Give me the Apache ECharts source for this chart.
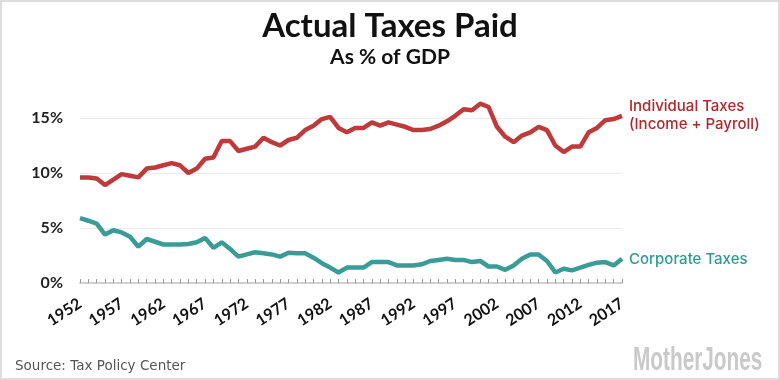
<!DOCTYPE html>
<html>
<head>
<meta charset="utf-8">
<script src="https://cdn.jsdelivr.net/npm/echarts@6/dist/echarts.min.js"></script>
<style>
  html, body { margin: 0; padding: 0; background: #fff; }
  #chart { width: 780px; height: 380px; }
</style>
</head>
<body>
<div id="chart"></div>
<script>
const years = [];
for (let y = 1952; y <= 2017; y++) years.push(String(y));

const individualTaxes = [
  9.6, 9.6, 9.5, 8.9, 9.4, 9.9, 9.75, 9.6, 10.4, 10.5,
  10.7, 10.9, 10.7, 10.0, 10.4, 11.3, 11.4, 12.9, 12.9, 12.0,
  12.2, 12.4, 13.2, 12.8, 12.5, 13.0, 13.2, 13.9, 14.3, 14.9,
  15.1, 14.1, 13.7, 14.1, 14.1, 14.6, 14.3, 14.6, 14.4, 14.2,
  13.9, 13.9, 14.0, 14.3, 14.7, 15.2, 15.8, 15.7, 16.3, 16.0,
  14.2, 13.3, 12.8, 13.4, 13.7, 14.2, 13.9, 12.5, 11.9, 12.4,
  12.4, 13.7, 14.1, 14.8, 14.9, 15.2
];

const corporateTaxes = [
  5.9, 5.66, 5.4, 4.4, 4.8, 4.6, 4.2, 3.3, 4.0, 3.75,
  3.5, 3.5, 3.5, 3.55, 3.7, 4.1, 3.2, 3.7, 3.1, 2.4,
  2.6, 2.8, 2.7, 2.6, 2.4, 2.75, 2.7, 2.7, 2.3, 1.8,
  1.4, 0.96, 1.4, 1.4, 1.4, 1.9, 1.9, 1.9, 1.6, 1.6,
  1.6, 1.7, 2.0, 2.1, 2.2, 2.1, 2.1, 1.9, 2.0, 1.5,
  1.5, 1.2, 1.6, 2.2, 2.6, 2.6, 2.0, 0.96, 1.3, 1.15,
  1.4, 1.65, 1.85, 1.9, 1.6, 2.2
];

const yTicks = [0, 5, 10, 15];

const chart = echarts.init(document.getElementById('chart'), null, { renderer: 'canvas' });

chart.setOption({
  backgroundColor: '#ffffff',
  animation: false,
  title: [
    {
      text: 'Actual Taxes Paid',
      left: 'center',
      top: 5,
      textStyle: { fontFamily: 'Lato', fontWeight: 'bold', fontSize: 33, color: '#111' }
    },
    {
      text: 'As % of GDP',
      left: 'center',
      top: 42,
      textStyle: { fontFamily: 'Lato', fontWeight: 'bold', fontSize: 21, color: '#111' }
    }
  ],
  grid: { left: 80, right: 158, top: 96, bottom: 97, containLabel: false },
  xAxis: {
    type: 'category',
    data: years,
    boundaryGap: false,
    axisLine: { show: true, lineStyle: { color: '#cfcfcf', width: 2 } },
    axisTick: { show: true, inside: true, interval: 0, length: 4, lineStyle: { color: '#999', width: 1 } },
    axisLabel: {
      interval: 4,
      rotate: 33,
      margin: 19,
      fontFamily: 'Lato',
      fontWeight: 'bold',
      fontSize: 16,
      color: '#111'
    },
    splitLine: { show: false }
  },
  yAxis: {
    type: 'value',
    min: yTicks[0],
    max: 17,
    interval: 5,
    axisLine: { show: false },
    axisTick: { show: false },
    axisLabel: {
      showMaxLabel: false,
      margin: 17,
      fontFamily: 'Lato',
      fontWeight: 'bold',
      fontSize: 16,
      color: '#222',
      formatter: function (v) { return yTicks.indexOf(v) >= 0 ? v + '%' : ''; }
    },
    splitLine: { show: true, showMaxLine: false, showMinLine: false, lineStyle: { color: '#ececec', width: 1 } }
  },
  series: [
    {
      name: 'Individual Taxes',
      type: 'line',
      data: individualTaxes,
      symbol: 'none',
      lineStyle: { color: '#bf3a3a', width: 4.5 },
      itemStyle: { color: '#bf3a3a' },
      endLabel: {
        show: true,
        formatter: 'Individual Taxes\n(Income + Payroll)',
        distance: 7,
        fontFamily: 'Inter',
        fontWeight: 500,
        fontSize: 15,
        lineHeight: 18,
        color: '#b3262c'
      },
      z: 3
    },
    {
      name: 'Corporate Taxes',
      type: 'line',
      data: corporateTaxes,
      symbol: 'none',
      lineStyle: { color: '#3a9c97', width: 4.5 },
      itemStyle: { color: '#3a9c97' },
      endLabel: {
        show: true,
        formatter: 'Corporate Taxes',
        distance: 7,
        offset: [0, 1],
        fontFamily: 'Inter',
        fontWeight: 500,
        fontSize: 15,
        color: '#2e9993'
      },
      z: 3
    }
  ],
  graphic: [
    {
      type: 'rect',
      shape: { x: 1, y: 1, width: 778, height: 378 },
      style: { fill: 'none', stroke: '#dddddd', lineWidth: 2 },
      silent: true
    },
    {
      type: 'text',
      left: 15,
      top: 359,
      style: { text: 'Source: Tax Policy Center', fontFamily: 'DejaVu Sans', fontSize: 13.5, fill: '#555' }
    },
    {
      type: 'text',
      x: 633,
      y: 344,
      scaleX: 0.63,
      style: { text: 'MotherJones', fontFamily: 'Liberation Sans', fontWeight: 'bold', fontSize: 33, fill: '#c9c9c9' }
    }
  ]
});
</script>
</body>
</html>
